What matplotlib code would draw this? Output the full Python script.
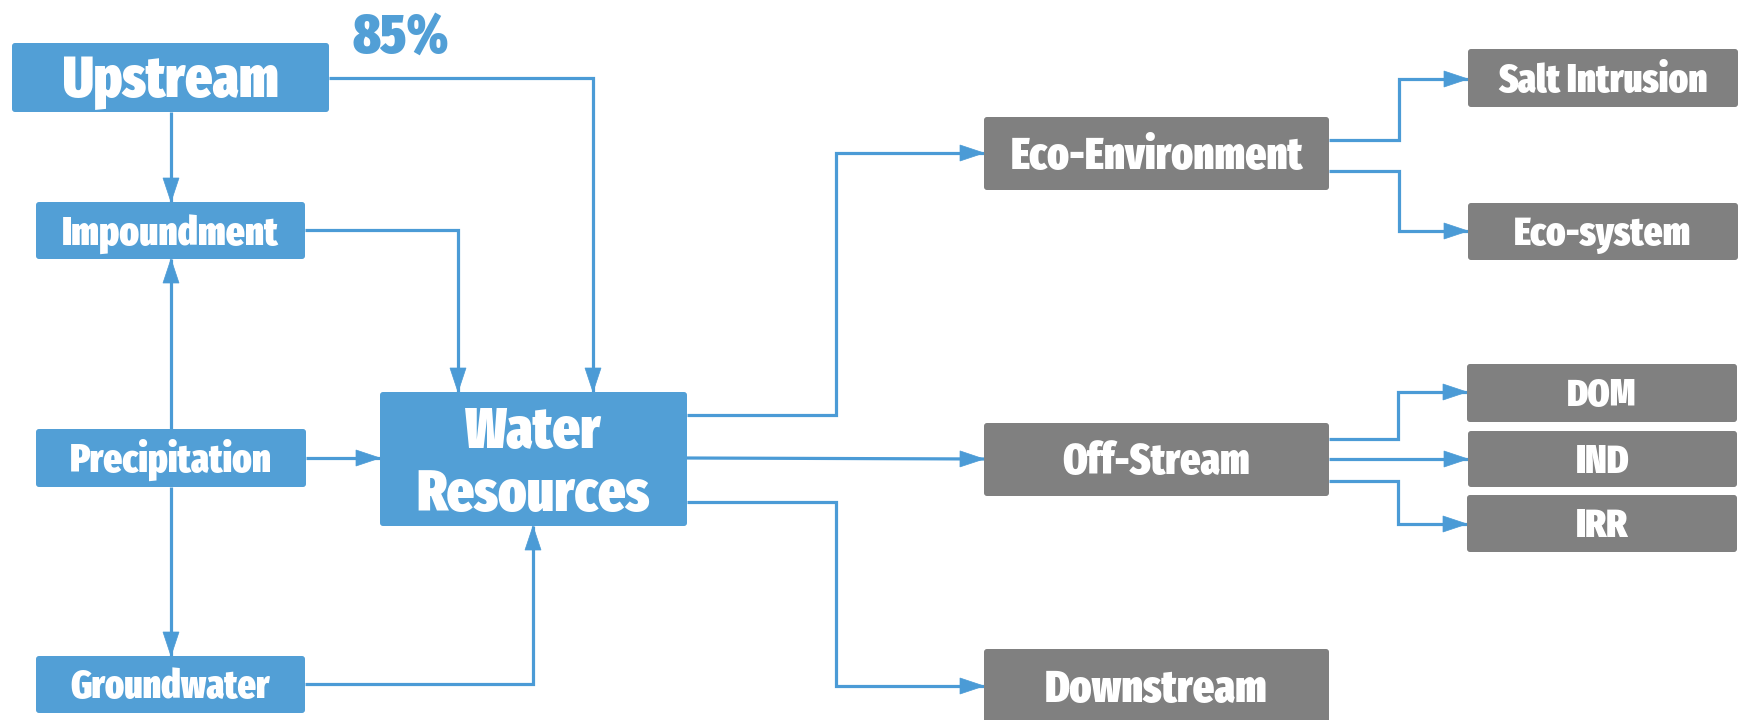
import matplotlib
matplotlib.use("Agg")
import matplotlib.pyplot as plt
from matplotlib.patches import FancyBboxPatch, Polygon
from matplotlib.textpath import TextPath
from matplotlib.font_manager import FontProperties, fontManager
import numpy as np
import os

# ---- diagram content ----
node_names = ["Upstream", "Impoundment", "Precipitation", "Groundwater",
              "Water\nResources", "Eco-Environment", "Off-Stream", "Downstream",
              "Salt Intrusion", "Eco-system", "DOM", "IND", "IRR"]
node_group = ["source", "source", "source", "source", "source",
              "use", "use", "use", "use", "use", "use", "use", "use"]
edges = [("Upstream", "Water\nResources"), ("Upstream", "Impoundment"),
         ("Impoundment", "Water\nResources"), ("Precipitation", "Impoundment"),
         ("Precipitation", "Groundwater"), ("Precipitation", "Water\nResources"),
         ("Groundwater", "Water\nResources"),
         ("Water\nResources", "Eco-Environment"), ("Water\nResources", "Off-Stream"),
         ("Water\nResources", "Downstream"),
         ("Eco-Environment", "Salt Intrusion"), ("Eco-Environment", "Eco-system"),
         ("Off-Stream", "DOM"), ("Off-Stream", "IND"), ("Off-Stream", "IRR")]
annotation_text = "85%"

# ---- layout (pixel coordinates, y downwards) ----
W, H = 1740, 720
box = {  # x0, y0, x1, y1
    "Upstream": (12, 43, 329, 112),
    "Impoundment": (36, 202, 305, 259),
    "Precipitation": (36, 429, 306, 487),
    "Groundwater": (36, 656, 305, 713),
    "Water\nResources": (380, 392, 687, 526),
    "Eco-Environment": (984, 117, 1329, 190),
    "Off-Stream": (984, 423, 1329, 496),
    "Downstream": (984, 649, 1329, 723),
    "Salt Intrusion": (1468, 49, 1738, 107),
    "Eco-system": (1468, 203, 1738, 260),
    "DOM": (1467, 364, 1737, 422),
    "IND": (1468, 431, 1737, 487),
    "IRR": (1467, 495, 1737, 552),
}
label_size = {  # cap height px, max text width px (per line)
    "Upstream": (43, 214),
    "Impoundment": (29, 216),
    "Precipitation": (29, 200),
    "Groundwater": (29, 200),
    "Water\nResources": (43, 232),
    "Eco-Environment": (35, 292),
    "Off-Stream": (34, 186),
    "Downstream": (35, 220),
    "Salt Intrusion": (30, 208),
    "Eco-system": (30, 175),
    "DOM": (29, 68),
    "IND": (29, 52),
    "IRR": (29, 52),
}
routes = {
    ("Upstream", "Water\nResources"): [(329, 78), (593, 78), (593, 392)],
    ("Upstream", "Impoundment"): [(171, 112), (171, 202)],
    ("Impoundment", "Water\nResources"): [(305, 230), (458, 230), (458, 392)],
    ("Precipitation", "Impoundment"): [(171, 429), (171, 259)],
    ("Precipitation", "Groundwater"): [(171, 487), (171, 656)],
    ("Precipitation", "Water\nResources"): [(306, 458), (380, 458)],
    ("Groundwater", "Water\nResources"): [(305, 684), (533, 684), (533, 526)],
    ("Water\nResources", "Eco-Environment"): [(687, 415), (836, 415), (836, 153), (984, 153)],
    ("Water\nResources", "Off-Stream"): [(687, 458), (984, 459)],
    ("Water\nResources", "Downstream"): [(687, 502), (836, 502), (836, 686), (984, 686)],
    ("Eco-Environment", "Salt Intrusion"): [(1329, 140), (1399, 140), (1399, 79), (1468, 79)],
    ("Eco-Environment", "Eco-system"): [(1329, 171), (1399, 171), (1399, 231), (1468, 231)],
    ("Off-Stream", "DOM"): [(1329, 439), (1398, 439), (1398, 392), (1467, 392)],
    ("Off-Stream", "IND"): [(1329, 459), (1468, 459)],
    ("Off-Stream", "IRR"): [(1329, 481), (1398, 481), (1398, 524), (1467, 524)],
}
annot_pos = (401, 55, 43, 95)  # center x, baseline y, cap height, max width

BLUE = "#529fd6"
LINE = "#4b9bd6"
GREY = "#808080"
colors = {"source": BLUE, "use": GREY}


# ---- pick a condensed bold font if one is installed ----
def pick_font():
    prefs = [("extracondensed", "black"), ("extracondensed", "extrabold"),
             ("extracondensed", "bold"), ("condensed", "black"),
             ("condensed", "extrabold"), ("condensed", "bold"),
             ("narrow", "bold"), ("semicondensed", "bold")]
    files = [f.fname for f in fontManager.ttflist]
    for s, w in prefs:
        for fn in sorted(files):
            b = os.path.basename(fn).lower().replace("-", "").replace("_", "")
            if s in b and w in b and "italic" not in b and "semi" + s not in b:
                if s != "semicondensed" and ("semicondensed" in b):
                    continue
                if w == "bold" and ("semibold" in b or "extrabold" in b):
                    continue
                return FontProperties(fname=fn)
    return FontProperties(family=["Roboto", "DejaVu Sans"], weight="bold")


fp = pick_font()
tp = TextPath((0, 0), "H", size=100, prop=fp)
cap_ratio = tp.get_extents().height / 100.0

dpi = 100
fig = plt.figure(figsize=(W / dpi, H / dpi), dpi=dpi)
ax = fig.add_axes([0, 0, 1, 1])
ax.set_xlim(0, W)
ax.set_ylim(H, 0)
ax.axis("off")


def fit_size(lines, cap_px, max_w):
    size_cap = cap_px / cap_ratio  # em in px
    widest = max(TextPath((0, 0), ln, size=100, prop=fp).get_extents().width / 100.0
                 for ln in lines)
    size_w = max_w / widest
    em = min(size_cap, size_w)
    return em * 72.0 / dpi, em * cap_ratio


# edges
for e in edges:
    pts = np.array(routes[e], dtype=float)
    ax.plot(pts[:, 0], pts[:, 1], color=LINE, lw=2.3, solid_joinstyle="miter",
            solid_capstyle="butt", zorder=1)
    tip = pts[-1]
    d = tip - pts[-2]
    d = d / np.hypot(*d)
    n = np.array([-d[1], d[0]])
    L, hw = 24, 8
    base = tip - d * L
    ax.add_patch(Polygon([tip, base + n * hw, base - n * hw], closed=True,
                         facecolor=LINE, edgecolor=LINE, lw=0.5, zorder=3))

# nodes
for name, grp in zip(node_names, node_group):
    x0, y0, x1, y1 = box[name]
    cap, maxw = label_size[name]
    ax.add_patch(FancyBboxPatch((x0, y0), x1 - x0, y1 - y0,
                                boxstyle="round,pad=0,rounding_size=3",
                                facecolor=colors[grp], edgecolor="none", zorder=2))
    lines = name.split("\n")
    fs, real_cap = fit_size(lines, cap, maxw)
    cx = (x0 + x1) / 2
    cy = (y0 + y1) / 2
    gap = cap * 1.47
    n = len(lines)
    for i, ln in enumerate(lines):
        yc = cy + (i - (n - 1) / 2) * gap
        ax.text(cx, yc + real_cap / 2, ln, ha="center", va="baseline", color="white",
                fontsize=fs, fontproperties=fp, zorder=4)

fs, real_cap = fit_size([annotation_text], annot_pos[2], annot_pos[3])
ax.text(annot_pos[0], annot_pos[1] - (annot_pos[2] - real_cap) / 2, annotation_text,
        ha="center", va="baseline", color=BLUE, fontsize=fs, fontproperties=fp)

fig.savefig("out.png", dpi=dpi, facecolor="white")
